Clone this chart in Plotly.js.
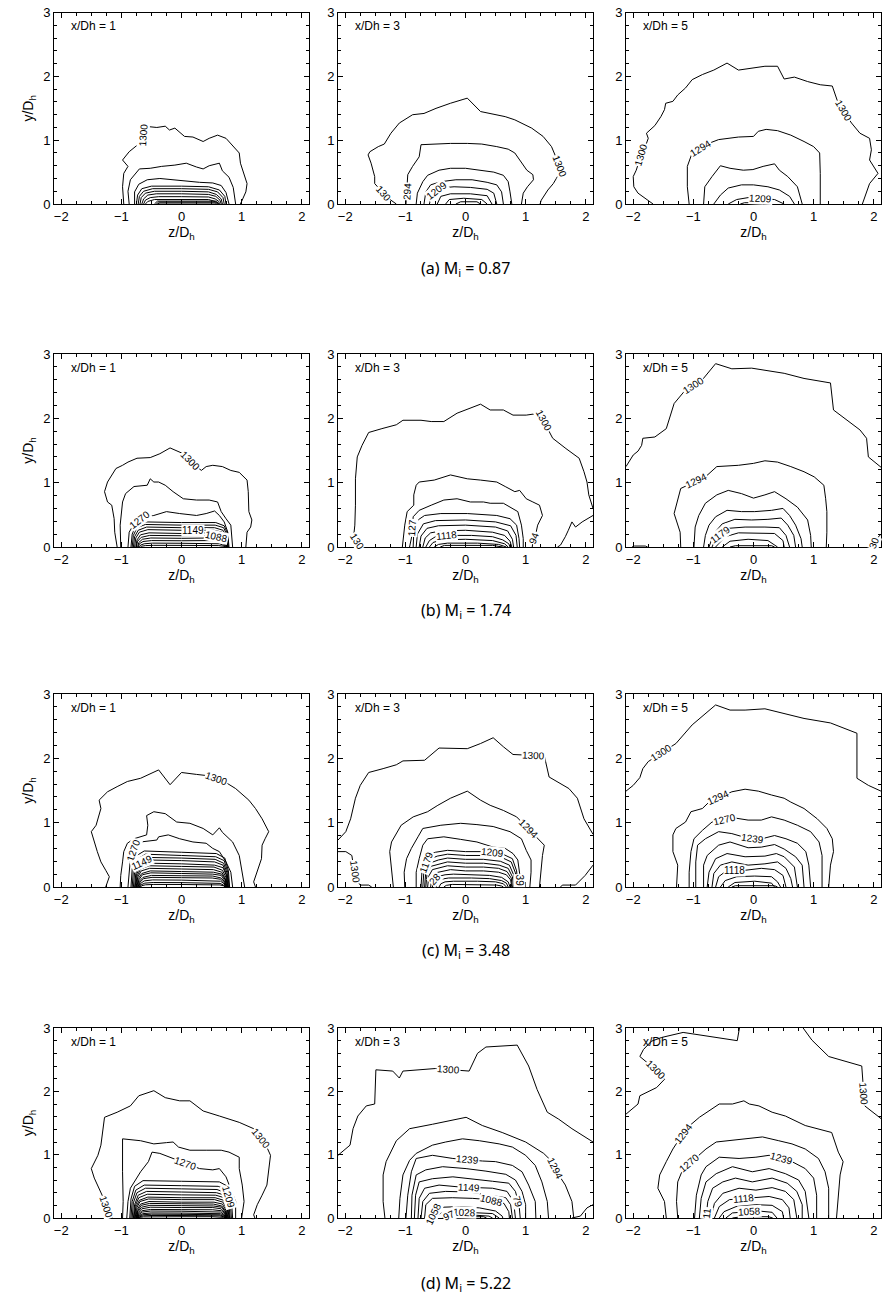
<!DOCTYPE html>
<html><head><meta charset="utf-8">
<script src="https://cdn.plot.ly/plotly-3.0.1.min.js"></script>
<style>html,body{margin:0;padding:0;background:#fff}#chart{width:884px;height:1301px}</style>
</head><body><div id="chart"></div>
<script>
// Isotherms of the jet cross-sections. Each line: v = temperature level (K), p = [[z/Dh, y/Dh], ...]
const a1Lines = [
 {v:1300,p:[[-0.96,0],[-0.98,0.27],[-0.96,0.48],[-0.89,0.59],[-0.98,0.69],[-0.87,0.82],[-0.74,0.92],[-0.64,0.95],[-0.62,1.22],[-0.55,1.21],[-0.41,1.2],[-0.27,1.22],[-0.2,1.16],[-0.11,1.19],[-0.03,1.12],[0.05,1.06],[0.19,1.05],[0.36,0.98],[0.46,1.03],[0.6,1.08],[0.74,1.03],[0.82,0.95],[0.96,0.8],[0.98,0.64],[1.04,0.48],[1.09,0.32],[1.07,0.19],[0.98,0]]},
 {v:1294,p:[[-0.87,0],[-0.89,0.2],[-0.85,0.38],[-0.75,0.5],[-0.7,0.55],[-0.52,0.56],[-0.33,0.59],[-0.11,0.61],[0.08,0.64],[0.25,0.58],[0.36,0.55],[0.46,0.6],[0.63,0.64],[0.68,0.52],[0.79,0.42],[0.86,0.26],[0.9,0]]},
 {v:1270,p:[[-0.78,0],[-0.78,0.19],[-0.71,0.31],[-0.57,0.38],[-0.36,0.4],[-0.14,0.38],[0.08,0.35],[0.3,0.34],[0.52,0.33],[0.66,0.29],[0.74,0.18],[0.79,0]]},
 {v:1239,p:[[-0.75,0],[-0.73,0.14],[-0.66,0.24],[-0.5,0.28],[0,0.28],[0.45,0.27],[0.63,0.22],[0.72,0.12],[0.74,0]]},
 {v:1209,p:[[-0.72,0],[-0.7,0.12],[-0.63,0.2],[-0.48,0.24],[0,0.24],[0.45,0.23],[0.6,0.19],[0.69,0.1],[0.71,0]]},
 {v:1179,p:[[-0.69,0],[-0.67,0.1],[-0.6,0.17],[-0.45,0.2],[0,0.2],[0.45,0.19],[0.58,0.15],[0.66,0.08],[0.68,0]]},
 {v:1149,p:[[-0.66,0],[-0.63,0.08],[-0.56,0.14],[-0.42,0.16],[0,0.16],[0.45,0.15],[0.57,0.12],[0.64,0.06],[0.66,0]]},
 {v:1118,p:[[-0.63,0],[-0.6,0.06],[-0.52,0.1],[-0.38,0.115],[0,0.115],[0.45,0.11],[0.56,0.08],[0.62,0.04],[0.63,0]]},
 {v:1088,p:[[-0.6,0],[-0.56,0.04],[-0.45,0.07],[0,0.075],[0.45,0.07],[0.56,0.04],[0.6,0]]},
 {v:1058,p:[[-0.45,0],[-0.4,0.045],[0.58,0.045],[0.62,0]]},
 {v:1028,p:[[-0.42,0],[-0.38,0.03],[0.57,0.03],[0.6,0]]},
 {v:997,p:[[-0.4,0],[-0.36,0.015],[0.56,0.015],[0.58,0]]}
];
const a1Labels = [[0,7,0.5]];

const a2Lines = [
 {v:1300,p:[[-1.15,0],[-1.3,0.1],[-1.51,0.32],[-1.51,0.43],[-1.57,0.64],[-1.62,0.77],[-1.59,0.82],[-1.45,0.9],[-1.35,0.94],[-1.24,1.11],[-1.1,1.27],[-0.88,1.4],[-0.69,1.42],[-0.49,1.5],[-0.25,1.58],[0.03,1.66],[0.25,1.45],[0.47,1.41],[0.66,1.37],[0.82,1.32],[1.1,1.19],[1.29,1.06],[1.43,0.9],[1.51,0.72],[1.59,0.53],[1.51,0.4],[1.46,0.32],[1.37,0.22],[1.32,0.14],[1.26,0.06],[1.24,0]]},
 {v:1294,p:[[-0.99,0],[-0.97,0.27],[-0.96,0.46],[-0.88,0.59],[-0.77,0.74],[-0.74,0.93],[-0.52,0.94],[-0.25,0.95],[0.03,0.95],[0.27,0.94],[0.52,0.9],[0.71,0.86],[0.82,0.8],[0.93,0.66],[1.02,0.53],[1.12,0.46],[1.13,0.38],[1.03,0.27],[0.96,0.17],[0.93,0]]},
 {v:1270,p:[[-0.82,0],[-0.8,0.17],[-0.71,0.35],[-0.63,0.45],[-0.44,0.53],[-0.25,0.56],[0,0.56],[0.25,0.53],[0.47,0.5],[0.63,0.45],[0.71,0.35],[0.74,0.19],[0.77,0]]},
 {v:1239,p:[[-0.69,0],[-0.66,0.19],[-0.58,0.3],[-0.41,0.35],[-0.16,0.38],[0.11,0.38],[0.36,0.34],[0.52,0.3],[0.6,0.19],[0.63,0]]},
 {v:1209,p:[[-0.6,0],[-0.55,0.17],[-0.44,0.25],[-0.19,0.27],[0.08,0.26],[0.36,0.23],[0.47,0.17],[0.52,0]]},
 {v:1179,p:[[-0.47,0],[-0.41,0.12],[-0.25,0.16],[0.08,0.16],[0.36,0.13],[0.44,0]]},
 {v:1149,p:[[-0.33,0],[-0.27,0.07],[-0.03,0.09],[0.27,0.07],[0.36,0]]},
 {v:1118,p:[[-0.16,0],[-0.08,0.035],[0.19,0.035],[0.25,0]]}
];
const a2Labels = [[0,1,0.3,'130'],[1,0,0.75,'294'],[4,1,0.6],[0,23,0.7]];

const a3Lines = [
 {v:1300,p:[[-1.67,0],[-1.81,0.09],[-1.92,0.17],[-1.99,0.27],[-2.0,0.43],[-1.95,0.53],[-1.89,0.69],[-1.84,0.85],[-1.78,0.95],[-1.75,1.03],[-1.78,1.11],[-1.64,1.23],[-1.54,1.37],[-1.48,1.48],[-1.46,1.58],[-1.34,1.61],[-1.26,1.71],[-1.13,1.82],[-1.02,1.95],[-0.85,2.03],[-0.66,2.1],[-0.44,2.21],[-0.25,2.1],[-0.03,2.13],[0.19,2.16],[0.4,2.16],[0.51,1.96],[0.68,1.99],[0.9,1.92],[1.11,1.87],[1.31,1.85],[1.39,1.63],[1.52,1.42],[1.63,1.27],[1.77,1.11],[1.93,1.03],[1.96,0.85],[1.93,0.69],[1.99,0.59],[2.07,0.48],[1.93,0.32],[1.87,0.17],[1.81,0]]},
 {v:1294,p:[[-1.07,0],[-1.1,0.27],[-1.1,0.59],[-1.02,0.8],[-0.8,0.93],[-0.58,1.01],[-0.25,1.05],[0,1.06],[0.08,1.14],[0.21,1.17],[0.4,1.15],[0.62,1.08],[0.84,0.98],[1.0,0.9],[1.1,0.8],[1.11,0.48],[1.11,0]]},
 {v:1270,p:[[-0.83,0],[-0.81,0.27],[-0.69,0.43],[-0.55,0.6],[-0.39,0.56],[-0.17,0.53],[-0.01,0.54],[0.16,0.59],[0.35,0.63],[0.43,0.53],[0.57,0.43],[0.73,0.27],[0.81,0]]},
 {v:1239,p:[[-0.66,0],[-0.55,0.14],[-0.42,0.25],[-0.2,0.3],[0,0.3],[0.24,0.27],[0.43,0.22],[0.6,0.12],[0.68,0]]},
 {v:1209,p:[[-0.42,0],[-0.28,0.07],[-0.09,0.1],[0.14,0.09],[0.35,0.07],[0.51,0]]},
 {v:1179,p:[[-0.22,0],[-0.15,0.02],[0.2,0.02],[0.28,0]]}
];
const a3Labels = [[0,6,0.5],[0,31,0.8],[1,3,0.6],[4,2,0.9]];

const b1Lines = [
 {v:1300,p:[[-1.07,0],[-1.11,0.23],[-1.12,0.44],[-1.16,0.65],[-1.23,0.7],[-1.28,0.86],[-1.23,1.01],[-1.15,1.12],[-1.09,1.22],[-0.98,1.27],[-0.89,1.32],[-0.74,1.38],[-0.52,1.39],[-0.36,1.45],[-0.19,1.54],[0.03,1.45],[0.19,1.3],[0.33,1.19],[0.41,1.25],[0.52,1.27],[0.68,1.25],[0.82,1.19],[0.96,1.16],[1.09,1.04],[1.11,0.86],[1.12,0.55],[1.17,0.42],[1.15,0.31],[1.09,0.23],[1.07,0]]},
 {v:1294,p:[[-1.01,0],[-1.02,0.34],[-0.98,0.7],[-0.93,0.83],[-0.79,0.94],[-0.57,0.96],[-0.52,1.06],[-0.46,1.01],[-0.38,1.01],[-0.27,0.96],[-0.14,0.86],[0.03,0.75],[0.25,0.73],[0.46,0.73],[0.6,0.7],[0.66,0.55],[0.74,0.44],[0.82,0.34],[0.85,0]]},
 {v:1270,p:[[-0.89,0],[-0.87,0.23],[-0.79,0.36],[-0.68,0.44],[-0.46,0.49],[-0.25,0.55],[-0.03,0.52],[0.25,0.49],[0.41,0.52],[0.55,0.56],[0.63,0.49],[0.71,0.39],[0.77,0.23],[0.77,0]]},
 {v:1239,p:[[-0.84,0],[-0.82,0.2],[-0.76,0.33],[-0.62,0.39],[0,0.38],[0.57,0.38],[0.71,0.33],[0.77,0.2],[0.79,0]]},
 {v:1209,p:[[-0.82,0],[-0.8,0.18],[-0.74,0.3],[-0.6,0.35],[0,0.34],[0.56,0.34],[0.7,0.3],[0.76,0.18],[0.78,0]]},
 {v:1179,p:[[-0.8,0],[-0.78,0.16],[-0.72,0.26],[-0.58,0.31],[0,0.3],[0.55,0.3],[0.69,0.26],[0.75,0.16],[0.77,0]]},
 {v:1149,p:[[-0.78,0],[-0.76,0.14],[-0.7,0.23],[-0.56,0.27],[0,0.26],[0.54,0.26],[0.68,0.23],[0.74,0.14],[0.76,0]]},
 {v:1118,p:[[-0.76,0],[-0.74,0.11],[-0.68,0.19],[-0.54,0.22],[0,0.21],[0.53,0.22],[0.67,0.19],[0.73,0.11],[0.75,0]]},
 {v:1088,p:[[-0.75,0],[-0.73,0.09],[-0.67,0.15],[-0.53,0.18],[0,0.175],[0.52,0.18],[0.66,0.15],[0.72,0.09],[0.74,0]]},
 {v:1058,p:[[-0.73,0],[-0.71,0.07],[-0.65,0.12],[-0.51,0.14],[0,0.135],[0.51,0.14],[0.65,0.12],[0.71,0.07],[0.73,0]]},
 {v:1028,p:[[-0.72,0],[-0.7,0.05],[-0.64,0.085],[-0.5,0.1],[0,0.097],[0.5,0.1],[0.64,0.085],[0.7,0.05],[0.72,0]]},
 {v:997,p:[[-0.7,0],[-0.68,0.03],[-0.62,0.05],[-0.48,0.06],[0,0.058],[0.49,0.06],[0.63,0.05],[0.69,0.03],[0.71,0]]},
 {v:967,p:[[-0.68,0],[-0.66,0.013],[-0.6,0.022],[-0.46,0.026],[0,0.025],[0.48,0.026],[0.62,0.022],[0.68,0.013],[0.7,0]]}
];
const b1Labels = [[0,15,0.7],[2,2,0.9],[6,4,0.35],[8,5,0.4]];

const b2Lines = [
 {v:1300,p:[[-1.75,0],[-1.86,0.16],[-1.84,0.34],[-1.83,0.65],[-1.83,1.06],[-1.8,1.4],[-1.72,1.58],[-1.61,1.78],[-1.39,1.84],[-1.15,1.9],[-1.04,1.97],[-0.74,1.97],[-0.57,1.95],[-0.36,1.95],[-0.14,2.08],[0.08,2.16],[0.25,2.22],[0.41,2.13],[0.63,2.13],[0.79,2.05],[1.01,2.05],[1.23,2.08],[1.37,1.84],[1.45,1.69],[1.67,1.53],[1.89,1.38],[1.97,1.17],[2.02,1.01],[2.05,0.81],[2.12,0.6]]},
 {v:1300,p:[[2.12,0.49],[1.94,0.39],[1.83,0.31],[1.77,0.39],[1.71,0.26],[1.66,0.16],[1.58,0.03],[1.53,0]]},
 {v:1294,p:[[-1.05,0],[-1.01,0.34],[-0.97,0.55],[-0.86,0.65],[-0.86,0.81],[-0.82,0.96],[-0.77,1.01],[-0.52,1.04],[-0.25,1.12],[0.03,1.06],[0.25,1.04],[0.52,1.01],[0.66,0.94],[0.82,0.86],[0.9,0.88],[1.01,0.75],[1.12,0.7],[1.23,0.65],[1.28,0.49],[1.2,0.34],[1.17,0.21],[1.12,0.08],[1.11,0]]},
 {v:1270,p:[[-0.93,0],[-0.89,0.18],[-0.87,0.47],[-0.77,0.57],[-0.57,0.65],[-0.36,0.73],[-0.14,0.75],[0.08,0.7],[0.3,0.7],[0.41,0.68],[0.63,0.68],[0.79,0.6],[0.87,0.55],[0.93,0.34],[0.96,0.13],[0.96,0]]},
 {v:1239,p:[[-0.87,0],[-0.86,0.23],[-0.79,0.42],[-0.68,0.49],[-0.41,0.52],[0.03,0.52],[0.52,0.49],[0.74,0.44],[0.85,0.34],[0.89,0.13],[0.9,0]]},
 {v:1209,p:[[-0.82,0],[-0.8,0.2],[-0.7,0.36],[-0.5,0.41],[0,0.42],[0.5,0.39],[0.75,0.33],[0.84,0.18],[0.86,0]]},
 {v:1179,p:[[-0.77,0],[-0.74,0.17],[-0.64,0.29],[-0.45,0.33],[0,0.34],[0.5,0.31],[0.7,0.25],[0.78,0.12],[0.8,0]]},
 {v:1149,p:[[-0.71,0],[-0.67,0.14],[-0.58,0.22],[-0.4,0.25],[0,0.26],[0.45,0.23],[0.65,0.18],[0.74,0.09],[0.77,0]]},
 {v:1118,p:[[-0.66,0],[-0.6,0.1],[-0.5,0.16],[-0.3,0.18],[0.1,0.18],[0.45,0.16],[0.62,0.11],[0.72,0.05],[0.74,0]]},
 {v:1088,p:[[-0.6,0],[-0.54,0.07],[-0.4,0.11],[0,0.12],[0.45,0.1],[0.65,0.05],[0.71,0]]},
 {v:1058,p:[[-0.52,0],[-0.45,0.04],[-0.3,0.06],[0.2,0.06],[0.55,0.04],[0.68,0]]},
 {v:1028,p:[[-0.42,0],[-0.35,0.025],[0.45,0.025],[0.62,0]]}
];
const b2Labels = [[0,0,0.5,'130'],[0,21,0.5],[2,20,0.5,'94'],[3,1,0.4,'127'],[8,2,0.9]];

const b3Lines = [
 {v:1300,p:[[-2.12,1.25],[-2.0,1.43],[-1.92,1.49],[-1.86,1.58],[-1.84,1.69],[-1.64,1.71],[-1.45,1.84],[-1.32,2.23],[-1.15,2.42],[-0.85,2.6],[-0.63,2.85],[-0.36,2.77],[-0.03,2.78],[0.24,2.74],[0.51,2.7],[0.84,2.62],[1.28,2.55],[1.33,2.13],[1.55,1.97],[1.77,1.82],[1.88,1.69],[1.91,1.4],[2.12,1.24]]},
 {v:1300,p:[[2.12,0.2],[2.02,0.1],[1.98,0]]},
 {v:1300,p:[[-2.02,0],[-1.98,0.015],[-1.8,0.015],[-1.76,0]]},
 {v:1294,p:[[-1.21,0],[-1.22,0.23],[-1.32,0.52],[-1.26,0.75],[-1.21,0.91],[-0.8,1.09],[-0.61,1.25],[-0.25,1.27],[0,1.3],[0.19,1.34],[0.4,1.32],[0.62,1.25],[0.84,1.17],[1.01,1.09],[1.17,0.96],[1.2,0.75],[1.22,0.55],[1.22,0.23],[1.21,0]]},
 {v:1270,p:[[-0.99,0],[-0.97,0.31],[-0.91,0.49],[-0.8,0.68],[-0.61,0.81],[-0.42,0.88],[-0.2,0.83],[0,0.76],[0.19,0.81],[0.35,0.86],[0.54,0.75],[0.73,0.62],[0.9,0.42],[0.95,0.18],[0.96,0]]},
 {v:1239,p:[[-0.83,0],[-0.8,0.18],[-0.74,0.34],[-0.63,0.47],[-0.44,0.57],[-0.2,0.55],[0.02,0.55],[0.3,0.57],[0.49,0.6],[0.6,0.49],[0.7,0.34],[0.79,0.13],[0.81,0]]},
 {v:1209,p:[[-0.74,0],[-0.66,0.21],[-0.52,0.36],[-0.31,0.43],[-0.03,0.42],[0.24,0.43],[0.46,0.45],[0.57,0.34],[0.67,0.18],[0.7,0]]},
 {v:1179,p:[[-0.69,0],[-0.61,0.16],[-0.42,0.29],[-0.14,0.31],[0.19,0.31],[0.43,0.3],[0.54,0.18],[0.6,0]]},
 {v:1149,p:[[-0.63,0],[-0.47,0.16],[-0.25,0.22],[0.08,0.22],[0.35,0.21],[0.49,0.1],[0.51,0]]},
 {v:1118,p:[[-0.52,0],[-0.39,0.09],[-0.09,0.12],[0.24,0.1],[0.4,0]]},
 {v:1088,p:[[-0.39,0],[-0.3,0.02],[0.3,0.02],[0.35,0]]}
];
const b3Labels = [[0,8,0.5],[1,1,0.3,'30'],[3,4,0.65],[7,1,0.3]];

const c1Lines = [
 {v:1300,p:[[-1.26,0],[-1.2,0.16],[-1.26,0.26],[-1.34,0.39],[-1.4,0.55],[-1.45,0.7],[-1.5,0.86],[-1.42,0.96],[-1.34,1.22],[-1.37,1.35],[-1.23,1.48],[-1.07,1.56],[-0.9,1.64],[-0.68,1.69],[-0.38,1.82],[-0.19,1.59],[0,1.78],[0.25,1.75],[0.44,1.73],[0.71,1.64],[0.9,1.53],[1.12,1.35],[1.23,1.22],[1.34,1.06],[1.45,0.86],[1.39,0.75],[1.34,0.65],[1.33,0.44],[1.26,0.23],[1.2,0.08],[1.23,0]]},
 {v:1294,p:[[-1.02,0],[-1.01,0.18],[-0.98,0.39],[-0.96,0.55],[-0.9,0.68],[-0.79,0.75],[-0.58,0.81],[-0.56,0.96],[-0.58,1.11],[-0.46,1.17],[-0.27,1.14],[-0.08,1.01],[0.14,0.99],[0.36,0.91],[0.52,0.81],[0.63,0.92],[0.68,0.85],[0.85,0.7],[0.96,0.49],[1.01,0.23],[1.05,0]]},
 {v:1270,p:[[-0.89,0],[-0.87,0.23],[-0.85,0.44],[-0.79,0.6],[-0.68,0.7],[-0.41,0.73],[-0.38,0.78],[-0.22,0.81],[-0.03,0.75],[0.19,0.7],[0.41,0.68],[0.52,0.6],[0.63,0.55],[0.74,0.39],[0.82,0.23],[0.85,0]]},
 {v:1239,p:[[-0.84,0],[-0.82,0.28],[-0.76,0.48],[-0.62,0.56],[0,0.54],[0.58,0.52],[0.72,0.45],[0.78,0.25],[0.8,0]]},
 {v:1209,p:[[-0.82,0],[-0.8,0.26],[-0.74,0.43],[-0.6,0.51],[0,0.49],[0.57,0.47],[0.71,0.41],[0.77,0.23],[0.79,0]]},
 {v:1179,p:[[-0.8,0],[-0.78,0.23],[-0.72,0.39],[-0.58,0.46],[0,0.45],[0.56,0.43],[0.7,0.37],[0.76,0.21],[0.78,0]]},
 {v:1149,p:[[-0.78,0],[-0.76,0.21],[-0.7,0.36],[-0.56,0.42],[0,0.41],[0.55,0.39],[0.69,0.34],[0.75,0.19],[0.77,0]]},
 {v:1118,p:[[-0.77,0],[-0.75,0.19],[-0.69,0.31],[-0.55,0.37],[0,0.36],[0.55,0.34],[0.69,0.3],[0.75,0.17],[0.77,0]]},
 {v:1088,p:[[-0.76,0],[-0.74,0.17],[-0.68,0.28],[-0.54,0.33],[0,0.32],[0.54,0.31],[0.68,0.26],[0.74,0.15],[0.76,0]]},
 {v:1058,p:[[-0.75,0],[-0.73,0.15],[-0.67,0.25],[-0.53,0.29],[0,0.28],[0.53,0.27],[0.67,0.23],[0.73,0.13],[0.75,0]]},
 {v:1028,p:[[-0.74,0],[-0.72,0.13],[-0.66,0.21],[-0.52,0.25],[0,0.24],[0.53,0.23],[0.67,0.2],[0.73,0.11],[0.75,0]]},
 {v:997,p:[[-0.73,0],[-0.71,0.11],[-0.65,0.19],[-0.51,0.22],[0,0.21],[0.52,0.2],[0.66,0.18],[0.72,0.1],[0.74,0]]},
 {v:967,p:[[-0.72,0],[-0.7,0.09],[-0.64,0.15],[-0.5,0.18],[0,0.175],[0.52,0.17],[0.66,0.14],[0.72,0.08],[0.74,0]]},
 {v:936,p:[[-0.71,0],[-0.69,0.075],[-0.63,0.13],[-0.49,0.15],[0,0.145],[0.51,0.14],[0.65,0.12],[0.71,0.07],[0.73,0]]},
 {v:906,p:[[-0.7,0],[-0.68,0.055],[-0.62,0.095],[-0.48,0.11],[0,0.107],[0.51,0.1],[0.65,0.09],[0.71,0.05],[0.73,0]]},
 {v:876,p:[[-0.69,0],[-0.67,0.035],[-0.61,0.06],[-0.47,0.07],[0,0.068],[0.5,0.065],[0.64,0.056],[0.7,0.03],[0.72,0]]},
 {v:845,p:[[-0.68,0],[-0.66,0.02],[-0.6,0.034],[-0.46,0.04],[0,0.039],[0.5,0.037],[0.64,0.032],[0.7,0.018],[0.72,0]]}
];
const c1Labels = [[0,18,0.5],[2,2,0.8],[6,2,0.3]];

const c2Lines = [
 {v:1300,p:[[-2.12,0.73],[-1.99,0.86],[-1.91,1.06],[-1.83,1.38],[-1.75,1.58],[-1.61,1.78],[-1.37,1.84],[-1.15,1.9],[-1.04,1.96],[-0.68,1.97],[-0.44,2.16],[0.03,2.15],[0.25,2.23],[0.46,2.32],[0.63,2.18],[0.79,2.06],[1.0,2.05],[1.31,2.04],[1.39,1.71],[1.72,1.53],[1.86,1.38],[1.97,1.06],[2.12,0.82]]},
 {v:1300,p:[[-2.12,0.55],[-1.99,0.55],[-1.89,0.49],[-1.86,0.34],[-1.83,0.13],[-1.75,0.03],[-1.61,0.03],[-1.56,0]]},
 {v:1300,p:[[2.12,0.34],[1.99,0.18],[1.83,0.03],[1.61,0.03],[1.58,0]]},
 {v:1294,p:[[-1.2,0],[-1.23,0.23],[-1.26,0.55],[-1.23,0.7],[-1.07,0.96],[-0.87,1.09],[-0.63,1.17],[-0.46,1.27],[-0.25,1.38],[0.03,1.49],[0.25,1.35],[0.41,1.27],[0.63,1.19],[0.85,1.09],[1.09,0.86],[1.23,0.73],[1.31,0.65],[1.28,0.49],[1.26,0.23],[1.23,0]]},
 {v:1270,p:[[-1.01,0],[-1.02,0.23],[-0.98,0.44],[-0.9,0.6],[-0.79,0.78],[-0.71,0.91],[-0.41,0.96],[-0.08,0.99],[0.19,0.97],[0.46,0.94],[0.74,0.86],[0.93,0.75],[1.01,0.57],[1.09,0.42],[1.09,0.23],[1.07,0]]},
 {v:1239,p:[[-0.82,0],[-0.82,0.23],[-0.77,0.44],[-0.71,0.65],[-0.63,0.75],[-0.36,0.78],[-0.08,0.74],[0.19,0.7],[0.46,0.62],[0.66,0.6],[0.79,0.52],[0.87,0.42],[0.9,0.21],[0.9,0]]},
 {v:1209,p:[[-0.74,0],[-0.72,0.3],[-0.66,0.47],[-0.5,0.54],[-0.3,0.57],[0,0.55],[0.3,0.55],[0.6,0.52],[0.78,0.44],[0.85,0.25],[0.87,0]]},
 {v:1179,p:[[-0.71,0],[-0.69,0.27],[-0.63,0.42],[-0.47,0.48],[-0.3,0.51],[0,0.49],[0.3,0.49],[0.6,0.46],[0.76,0.39],[0.83,0.22],[0.85,0]]},
 {v:1149,p:[[-0.68,0],[-0.66,0.24],[-0.6,0.37],[-0.45,0.42],[-0.3,0.45],[0,0.43],[0.3,0.43],[0.58,0.4],[0.73,0.34],[0.8,0.19],[0.82,0]]},
 {v:1118,p:[[-0.66,0],[-0.64,0.2],[-0.58,0.32],[-0.43,0.36],[-0.3,0.39],[0,0.37],[0.3,0.37],[0.56,0.34],[0.71,0.29],[0.78,0.16],[0.8,0]]},
 {v:1088,p:[[-0.63,0],[-0.61,0.17],[-0.55,0.27],[-0.4,0.3],[-0.3,0.33],[0,0.31],[0.3,0.31],[0.55,0.29],[0.69,0.24],[0.76,0.14],[0.78,0]]},
 {v:1058,p:[[-0.58,0],[-0.56,0.14],[-0.5,0.22],[-0.37,0.25],[-0.25,0.27],[0,0.25],[0.3,0.25],[0.55,0.23],[0.68,0.19],[0.75,0.11],[0.77,0]]},
 {v:1028,p:[[-0.55,0],[-0.53,0.1],[-0.47,0.16],[-0.34,0.19],[-0.2,0.2],[0.1,0.19],[0.4,0.18],[0.6,0.15],[0.71,0.08],[0.74,0]]},
 {v:997,p:[[-0.49,0],[-0.47,0.07],[-0.41,0.12],[-0.28,0.14],[0.1,0.14],[0.4,0.13],[0.6,0.1],[0.68,0.06],[0.71,0]]},
 {v:967,p:[[-0.44,0],[-0.41,0.05],[-0.34,0.08],[-0.2,0.09],[0.2,0.09],[0.5,0.08],[0.63,0.05],[0.68,0]]},
 {v:936,p:[[-0.36,0],[-0.32,0.025],[-0.22,0.04],[0.3,0.04],[0.52,0.03],[0.6,0.015],[0.63,0]]}
];
const c2Labels = [[0,16,0.4],[1,3,0.5],[3,13,0.8],[6,6,0.5],[7,1,0.7],[12,1,0.5,'28'],[5,12,0.5,'39']];

const c3Lines = [
 {v:1300,p:[[-2.12,1.49],[-2.0,1.58],[-1.89,1.7],[-1.84,1.84],[-1.75,1.95],[-1.5,2.1],[-1.29,2.23],[-1.02,2.52],[-0.63,2.83],[-0.39,2.75],[-0.14,2.75],[0.19,2.77],[0.51,2.7],[0.84,2.62],[1.28,2.55],[1.72,2.39],[1.72,1.69],[1.91,1.58],[2.12,1.49]]},
 {v:1294,p:[[-1.28,0],[-1.26,0.34],[-1.34,0.55],[-1.34,0.81],[-1.29,0.91],[-1.13,1.01],[-1.04,1.17],[-0.85,1.22],[-0.74,1.32],[-0.36,1.48],[-0.14,1.52],[0.08,1.49],[0.3,1.43],[0.51,1.38],[0.62,1.32],[0.84,1.22],[1.06,1.06],[1.22,0.91],[1.31,0.75],[1.33,0.55],[1.28,0.34],[1.25,0]]},
 {v:1270,p:[[-1.07,0],[-1.07,0.23],[-1.04,0.55],[-0.99,0.75],[-0.85,0.88],[-0.69,1.01],[-0.36,1.08],[-0.09,1.04],[0.13,1.04],[0.3,1.09],[0.51,1.04],[0.73,0.96],[0.95,0.86],[1.09,0.7],[1.14,0.49],[1.14,0.23],[1.14,0]]},
 {v:1239,p:[[-0.96,0],[-0.96,0.39],[-0.93,0.65],[-0.8,0.75],[-0.58,0.86],[-0.36,0.83],[-0.14,0.77],[0.1,0.74],[0.35,0.8],[0.54,0.75],[0.73,0.68],[0.87,0.55],[0.92,0.34],[0.95,0]]},
 {v:1209,p:[[-0.83,0],[-0.83,0.34],[-0.77,0.49],[-0.58,0.65],[-0.39,0.7],[-0.09,0.61],[0.13,0.62],[0.35,0.66],[0.51,0.59],[0.7,0.47],[0.81,0.34],[0.84,0]]},
 {v:1179,p:[[-0.77,0],[-0.74,0.23],[-0.63,0.44],[-0.44,0.52],[-0.14,0.47],[0.19,0.48],[0.38,0.52],[0.51,0.47],[0.68,0.31],[0.73,0]]},
 {v:1149,p:[[-0.69,0],[-0.66,0.21],[-0.55,0.34],[-0.36,0.39],[-0.09,0.34],[0.19,0.36],[0.4,0.39],[0.54,0.29],[0.62,0.13],[0.65,0]]},
 {v:1118,p:[[-0.63,0],[-0.58,0.16],[-0.44,0.26],[-0.14,0.26],[0.13,0.29],[0.35,0.27],[0.49,0.18],[0.54,0]]},
 {v:1088,p:[[-0.55,0],[-0.47,0.1],[-0.28,0.16],[0.02,0.17],[0.3,0.16],[0.4,0.08],[0.45,0]]},
 {v:1058,p:[[-0.42,0],[-0.31,0.07],[0.02,0.09],[0.3,0.06],[0.35,0]]},
 {v:1028,p:[[-0.36,0],[-0.3,0.02],[0.35,0.02],[0.4,0]]}
];
const c3Labels = [[0,4,0.9],[1,8,0.4],[2,5,0.65],[3,6,0.5],[7,2,0.4]];

const d1Lines = [
 {v:1300,p:[[-1.15,0],[-1.24,0.14],[-1.31,0.34],[-1.39,0.52],[-1.45,0.63],[-1.5,0.78],[-1.39,0.99],[-1.34,1.15],[-1.31,1.38],[-1.28,1.59],[-1.07,1.67],[-0.85,1.77],[-0.71,1.93],[-0.46,2.01],[-0.27,1.9],[-0.03,1.85],[0.14,1.85],[0.36,1.69],[0.63,1.61],[0.96,1.51],[1.2,1.41],[1.38,1.2],[1.48,0.99],[1.45,0.73],[1.42,0.52],[1.34,0.36],[1.26,0.21],[1.2,0.05],[1.22,0]]},
 {v:1294,p:[[-0.98,0],[-0.97,0.26],[-0.98,0.73],[-0.98,1.25],[-0.68,1.22],[-0.46,1.17],[-0.25,1.19],[-0.14,1.2],[-0.05,1.12],[0.14,1.07],[0.41,1.07],[0.66,1.07],[0.79,1.04],[0.96,0.96],[0.96,0.78],[1.01,0.52],[1.04,0.26],[1.0,0]]},
 {v:1270,p:[[-0.91,0],[-0.89,0.26],[-0.85,0.47],[-0.68,0.73],[-0.55,0.89],[-0.49,1.04],[-0.36,1.02],[-0.14,0.94],[-0.03,0.89],[0.3,0.78],[0.52,0.76],[0.63,0.78],[0.74,0.65],[0.82,0.47],[0.9,0.26],[0.9,0]]},
 {v:1239,p:[[-0.86,0],[-0.84,0.3],[-0.78,0.5],[-0.64,0.59],[0,0.58],[0.63,0.57],[0.77,0.5],[0.83,0.28],[0.85,0]]},
 {v:1209,p:[[-0.84,0],[-0.82,0.26],[-0.76,0.44],[-0.62,0.52],[0,0.51],[0.61,0.5],[0.75,0.44],[0.81,0.25],[0.83,0]]},
 {v:1179,p:[[-0.82,0],[-0.8,0.24],[-0.74,0.4],[-0.6,0.47],[0,0.46],[0.59,0.45],[0.73,0.4],[0.79,0.22],[0.81,0]]},
 {v:1149,p:[[-0.8,0],[-0.78,0.21],[-0.72,0.36],[-0.58,0.42],[0,0.41],[0.58,0.4],[0.72,0.36],[0.78,0.2],[0.8,0]]},
 {v:1118,p:[[-0.79,0],[-0.77,0.19],[-0.71,0.32],[-0.57,0.375],[0,0.365],[0.57,0.36],[0.71,0.32],[0.77,0.18],[0.79,0]]},
 {v:1088,p:[[-0.78,0],[-0.76,0.17],[-0.7,0.28],[-0.56,0.33],[0,0.32],[0.56,0.32],[0.7,0.28],[0.76,0.16],[0.78,0]]},
 {v:1058,p:[[-0.77,0],[-0.75,0.15],[-0.69,0.26],[-0.55,0.3],[0,0.29],[0.55,0.29],[0.69,0.25],[0.75,0.14],[0.77,0]]},
 {v:1028,p:[[-0.76,0],[-0.74,0.13],[-0.68,0.22],[-0.54,0.26],[0,0.25],[0.54,0.25],[0.68,0.22],[0.74,0.12],[0.76,0]]},
 {v:997,p:[[-0.75,0],[-0.73,0.115],[-0.67,0.2],[-0.53,0.23],[0,0.225],[0.53,0.22],[0.67,0.19],[0.73,0.11],[0.755,0]]},
 {v:967,p:[[-0.745,0],[-0.725,0.1],[-0.665,0.17],[-0.525,0.2],[0,0.195],[0.53,0.19],[0.67,0.17],[0.73,0.09],[0.75,0]]},
 {v:936,p:[[-0.74,0],[-0.72,0.085],[-0.66,0.145],[-0.52,0.17],[0,0.165],[0.52,0.165],[0.66,0.145],[0.72,0.08],[0.745,0]]},
 {v:906,p:[[-0.735,0],[-0.715,0.068],[-0.655,0.115],[-0.515,0.135],[0,0.132],[0.52,0.13],[0.66,0.115],[0.72,0.065],[0.74,0]]},
 {v:876,p:[[-0.73,0],[-0.71,0.055],[-0.65,0.094],[-0.51,0.11],[0,0.107],[0.51,0.106],[0.65,0.094],[0.71,0.052],[0.735,0]]},
 {v:845,p:[[-0.725,0],[-0.705,0.04],[-0.645,0.068],[-0.505,0.08],[0,0.078],[0.51,0.077],[0.65,0.068],[0.71,0.038],[0.73,0]]},
 {v:815,p:[[-0.72,0],[-0.7,0.03],[-0.64,0.051],[-0.5,0.06],[0,0.058],[0.5,0.058],[0.64,0.051],[0.7,0.028],[0.725,0]]},
 {v:784,p:[[-0.715,0],[-0.695,0.02],[-0.635,0.034],[-0.495,0.04],[0,0.039],[0.5,0.039],[0.64,0.034],[0.7,0.019],[0.72,0]]},
 {v:754,p:[[-0.71,0],[-0.69,0.01],[-0.63,0.017],[-0.49,0.02],[0,0.02],[0.5,0.02],[0.64,0.017],[0.7,0.01],[0.715,0]]}
];
const d1Labels = [[0,1,0.2],[0,20,0.7],[2,8,0.3],[4,6,0.6]];

const d2Lines = [
 {v:1300,p:[[-2.12,0.99],[-1.92,1.15],[-1.87,1.41],[-1.79,1.61],[-1.65,1.77],[-1.51,1.8],[-1.49,2.34],[-1.21,2.32],[-1.1,2.21],[-1.04,2.32],[-0.5,2.36],[0.06,2.32],[0.2,2.6],[0.34,2.7],[0.86,2.73],[1.05,2.4],[1.19,2.03],[1.36,1.67],[1.55,1.56],[1.77,1.41],[2.12,1.2]]},
 {v:1300,p:[[2.12,0.21],[2.02,0.16],[1.91,0.03],[1.77,0]]},
 {v:1294,p:[[-1.34,0],[-1.37,0.26],[-1.37,0.68],[-1.32,0.89],[-1.15,1.22],[-0.93,1.41],[-0.55,1.48],[0.01,1.59],[0.28,1.46],[0.61,1.35],[1.0,1.2],[1.3,1.02],[1.44,0.89],[1.55,0.68],[1.66,0.52],[1.77,0.26],[1.8,0]]},
 {v:1270,p:[[-1.11,0],[-1.09,0.31],[-1.04,0.68],[-0.93,0.91],[-0.82,1.02],[-0.55,1.15],[-0.33,1.2],[-0.05,1.25],[0.23,1.22],[0.56,1.17],[0.78,1.12],[1.0,0.99],[1.16,0.83],[1.27,0.57],[1.36,0.26],[1.38,0]]},
 {v:1239,p:[[-0.99,0],[-0.96,0.36],[-0.9,0.73],[-0.82,0.94],[-0.55,0.99],[-0.21,0.94],[0.28,0.9],[0.5,0.89],[0.78,0.83],[0.94,0.73],[1.05,0.52],[1.16,0.26],[1.17,0]]},
 {v:1209,p:[[-0.9,0],[-0.89,0.36],[-0.82,0.68],[-0.66,0.76],[-0.38,0.81],[0.01,0.78],[0.34,0.74],[0.67,0.69],[0.83,0.6],[0.94,0.42],[1.0,0.21],[1.0,0]]},
 {v:1179,p:[[-0.85,0],[-0.83,0.36],[-0.77,0.57],[-0.55,0.62],[-0.21,0.65],[0.12,0.62],[0.45,0.58],[0.72,0.55],[0.83,0.42],[0.89,0.21],[0.91,0]]},
 {v:1149,p:[[-0.79,0],[-0.77,0.31],[-0.68,0.47],[-0.44,0.52],[-0.1,0.49],[0.45,0.47],[0.69,0.42],[0.8,0.26],[0.83,0]]},
 {v:1118,p:[[-0.74,0],[-0.71,0.26],[-0.6,0.39],[-0.33,0.42],[0.06,0.41],[0.39,0.36],[0.67,0.32],[0.75,0.21],[0.78,0]]},
 {v:1088,p:[[-0.68,0],[-0.66,0.21],[-0.55,0.31],[-0.22,0.32],[0.12,0.31],[0.39,0.29],[0.64,0.23],[0.72,0.1],[0.73,0]]},
 {v:1058,p:[[-0.57,0],[-0.52,0.1],[-0.38,0.17],[-0.1,0.18],[0.23,0.16],[0.5,0.11],[0.61,0.03],[0.62,0]]},
 {v:1028,p:[[-0.49,0],[-0.41,0.08],[-0.21,0.1],[0.12,0.09],[0.45,0.07],[0.56,0]]},
 {v:997,p:[[-0.38,0],[-0.27,0.05],[0.06,0.05],[0.39,0.03],[0.45,0]]},
 {v:967,p:[[-0.3,0],[-0.2,0.02],[0.3,0.02],[0.35,0]]}
];
const d2Labels = [[0,10,0.4],[2,12,0.5],[4,5,0.5],[7,4,0.3],[9,5,0.2],[10,0,0.6],[11,2,0.6],[12,0,0.9,'97'],[6,8,0.8,'79']];

const d3Lines = [
 {v:1300,p:[[-2.12,1.64],[-2.0,1.74],[-1.92,1.8],[-1.89,1.93],[-1.78,1.98],[-1.61,2.06],[-1.48,2.19],[-1.7,2.4],[-1.89,2.55],[-1.83,2.66],[-1.7,2.79],[-1.53,2.85],[-1.17,2.93],[-0.27,2.8],[-0.23,3.02]]},
 {v:1300,p:[[0.81,3.02],[0.97,2.81],[1.25,2.55],[1.8,2.4],[1.82,2.14],[1.85,1.77],[2.12,1.57]]},
 {v:1294,p:[[-1.45,0],[-1.48,0.26],[-1.59,0.47],[-1.56,0.68],[-1.45,0.89],[-1.34,1.09],[-1.23,1.25],[-1.06,1.46],[-0.9,1.59],[-0.57,1.8],[-0.35,1.8],[-0.16,1.85],[-0.07,1.8],[0.09,1.77],[0.31,1.67],[0.53,1.61],[0.86,1.46],[1.3,1.35],[1.41,1.04],[1.49,0.89],[1.44,0.68],[1.41,0.36],[1.38,0]]},
 {v:1270,p:[[-1.26,0],[-1.28,0.26],[-1.26,0.57],[-1.17,0.78],[-0.98,0.93],[-0.79,1.09],[-0.62,1.2],[-0.07,1.25],[0.15,1.28],[0.42,1.22],[0.64,1.17],[0.86,1.09],[1.08,0.94],[1.19,0.73],[1.25,0.47],[1.25,0]]},
 {v:1239,p:[[-0.98,0],[-0.95,0.36],[-0.87,0.68],[-0.79,0.81],[-0.57,0.96],[-0.24,0.94],[0.04,0.96],[0.26,0.99],[0.64,0.89],[0.86,0.78],[1.0,0.63],[1.05,0.36],[1.05,0]]},
 {v:1209,p:[[-0.9,0],[-0.87,0.31],[-0.79,0.57],[-0.62,0.7],[-0.35,0.81],[-0.02,0.73],[0.26,0.78],[0.53,0.7],[0.75,0.6],[0.86,0.42],[0.92,0]]},
 {v:1179,p:[[-0.79,0],[-0.76,0.26],[-0.68,0.47],[-0.51,0.57],[-0.3,0.63],[-0.02,0.57],[0.31,0.63],[0.56,0.55],[0.72,0.42],[0.81,0.21],[0.81,0]]},
 {v:1149,p:[[-0.71,0],[-0.65,0.23],[-0.51,0.39],[-0.24,0.47],[0.04,0.44],[0.31,0.48],[0.53,0.42],[0.67,0.29],[0.72,0]]},
 {v:1118,p:[[-0.65,0],[-0.57,0.18],[-0.4,0.29],[-0.07,0.32],[0.26,0.34],[0.48,0.29],[0.59,0.16],[0.61,0]]},
 {v:1088,p:[[-0.57,0],[-0.49,0.1],[-0.29,0.18],[0.04,0.21],[0.31,0.2],[0.48,0.1],[0.5,0]]},
 {v:1058,p:[[-0.46,0],[-0.35,0.08],[-0.1,0.1],[0.09,0.11],[0.31,0.09],[0.39,0]]},
 {v:1028,p:[[-0.35,0],[-0.2,0.02],[0.25,0.02],[0.32,0]]}
];
const d3Labels = [[0,6,0.7],[1,4,0.5],[2,6,0.4],[3,3,0.6],[4,7,0.55],[8,2,0.7],[10,2,0.2],[6,0,0.3,'11']];

const stations = ['x/Dh = 1','x/Dh = 3','x/Dh = 5'];
const cases = ['(a) M<sub>i</sub> = 0.87','(b) M<sub>i</sub> = 1.74','(c) M<sub>i</sub> = 3.48','(d) M<sub>i</sub> = 5.22'];
const zTicks = [-2,-1,0,1,2];
const yTicks = [0,1,2,3];

const panelLines = [a1Lines,a2Lines,a3Lines,b1Lines,b2Lines,b3Lines,c1Lines,c2Lines,c3Lines,d1Lines,d2Lines,d3Lines];
const panelLabels = [a1Labels,a2Labels,a3Labels,b1Labels,b2Labels,b3Labels,c1Labels,c2Labels,c3Labels,d1Labels,d2Labels,d3Labels];

// page geometry (pixels)
const W = 884, H = 1301;
const colPx = [[54,309],[338,593],[626,881]];
const rowPx = [[12.7,204],[354,547],[694,887],[1028,1218]];
const captionPx = [268,610,950,1283];
const zRange = [-2.12,2.12], yRange = [0,3];

const sans = '"Liberation Sans", Arial, sans-serif';
const tickFont = {family:sans, size:13, color:'#000'};
const titleFont = {family:sans, size:14, color:'#000'};
const data = [], annotations = [], layout = {
  width:W, height:H, margin:{l:0,r:0,t:0,b:0}, showlegend:false,
  paper_bgcolor:'#fff', plot_bgcolor:'#fff', annotations
};

for (let r = 0; r < 4; r++) {
  for (let c = 0; c < 3; c++) {
    const n = r*3 + c + 1, sfx = n === 1 ? '' : String(n);
    const [l, rr] = colPx[c], [t, b] = rowPx[r];
    const ppx = (rr - l) / (zRange[1] - zRange[0]);
    const ppy = (b - t) / (yRange[1] - yRange[0]);
    const common = {
      showline:true, linecolor:'#000', linewidth:1, mirror:'allticks',
      ticks:'inside', ticklen:5, tickcolor:'#000', tickwidth:1,
      showgrid:false, zeroline:false, tickfont:tickFont, fixedrange:true
    };
    layout['xaxis'+sfx] = Object.assign({}, common, {
      domain:[l/W, rr/W], range:zRange, anchor:'y'+sfx, tickvals:zTicks,
      minor:{dtick:0.25, tick0:0, ticks:'inside', ticklen:3, tickcolor:'#000', showgrid:false},
      title:{text:'z/D<sub>h</sub>', font:titleFont, standoff:2}
    });
    const ya = Object.assign({}, common, {
      domain:[1 - b/H, 1 - t/H], range:yRange, anchor:'x'+sfx, tickvals:yTicks,
      minor:{dtick:0.2, tick0:0, ticks:'inside', ticklen:3, tickcolor:'#000', showgrid:false}
    });
    if (c === 0) ya.title = {text:'y/D<sub>h</sub>', font:titleFont, standoff:6};
    layout['yaxis'+sfx] = ya;

    // isotherm lines of this panel, joined with gaps
    const lines = panelLines[n-1];
    const xs = [], ys = [];
    lines.forEach(ln => { ln.p.forEach(q => { xs.push(q[0]); ys.push(q[1]); }); xs.push(null); ys.push(null); });
    data.push({type:'scatter', mode:'lines', x:xs, y:ys, xaxis:'x'+sfx, yaxis:'y'+sfx,
      line:{color:'#000', width:1}, hoverinfo:'skip', connectgaps:false});

    // inline level labels, aligned with their line
    panelLabels[n-1].forEach(lb => {
      const ln = lines[lb[0]], p0 = ln.p[lb[1]], p1 = ln.p[lb[1]+1], f = lb[2];
      const x = p0[0] + f*(p1[0]-p0[0]), y = p0[1] + f*(p1[1]-p0[1]);
      let ang = Math.atan2(-(p1[1]-p0[1])*ppy, (p1[0]-p0[0])*ppx) * 180 / Math.PI;
      if (ang > 90) ang -= 180;
      if (ang < -90) ang += 180;
      annotations.push({xref:'x'+sfx, yref:'y'+sfx, x, y, text: lb[3] || String(ln.v),
        showarrow:false, textangle:ang, bgcolor:'#fff', borderpad:0,
        font:{family:sans, size:10, color:'#000'}});
    });

    // station tag
    annotations.push({xref:'x'+sfx+' domain', yref:'y'+sfx+' domain', x:0.06, y:0.975,
      xanchor:'left', yanchor:'top', showarrow:false, text:stations[c],
      font:{family:sans, size:12, color:'#000'}});
  }
  // row caption
  annotations.push({xref:'paper', yref:'paper', x:(colPx[1][0]+colPx[1][1])/2/W, y:1 - captionPx[r]/H,
    xanchor:'center', yanchor:'middle', showarrow:false, text:cases[r],
    font:{family:'"Noto Sans", sans-serif', size:16, color:'#000'}});
}

Plotly.newPlot('chart', data, layout, {staticPlot:true, displayModeBar:false});
</script>
</body></html>
